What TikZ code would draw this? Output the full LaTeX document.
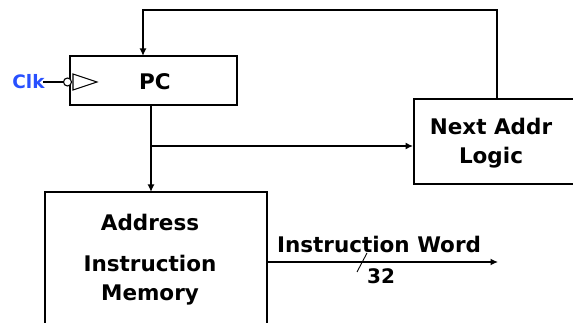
\documentclass[tikz,border=0pt]{standalone}
\usepackage{fontspec}
\setmainfont{DejaVu Sans}
\usetikzlibrary{arrows.meta}
\definecolor{clkblue}{RGB}{40,80,255}
\tikzset{
  box/.style={draw=black, line width=1.8pt, fill=white, inner sep=0pt},
  lbl/.style={inner sep=0pt, font=\fontsize{21.5}{29}\selectfont\bfseries, align=center},
  wire/.style={line width=1.5pt},
  arr/.style={wire, -{Latex[length=7.5pt,width=7pt]}},
}
\begin{document}
\begin{tikzpicture}[x=1pt, y=-1pt]
\clip (0,0) rectangle (573,323);
\fill[white] (0,0) rectangle (573,323);

% boxes
\node[box, minimum width=167pt, minimum height=49pt] (pc) at (153.5,80.5) {};
\node[box, minimum width=222pt, minimum height=160pt] (mem) at (156,272) {};
\node[box, minimum width=190pt, minimum height=85pt] (nab) at (509,141.5) {};

% labels
\node[lbl] (pcl) at (155,82) {PC};
\node[lbl] (addr) at (150,222) {Address};
\node[lbl] (imem) at (150,280.5) {Instruction\\Memory};
\node[lbl] (nabl) at (491,143) {Next Addr\\Logic};
\node[lbl] (iw) at (379,244) {Instruction Word};
\node[lbl, font=\fontsize{20}{22}\selectfont\bfseries] (n32) at (381,276) {32};
\node[lbl, font=\fontsize{18.5}{20}\selectfont\bfseries, text=clkblue] (clk) at (28.5,82) {Clk};

% clock input
\coordinate (ck1) at (43,82);
\node[draw, circle, line width=1.1pt, minimum size=8pt, inner sep=0pt, fill=white] (bub) at (67.5,82) {};
\draw[wire] (ck1) -- (bub.west);
\draw[line width=1.1pt, line join=miter] (73,74) -- (97,82) -- (73,90) -- cycle;

% feedback path
\coordinate (fbr) at (497,99);
\coordinate (fbtr) at (497,10);
\coordinate (fbtl) at (143,10);
\coordinate (fbd) at (143,56);
\draw[arr] (fbr) -- (fbtr) -- (fbtl) -- (fbd);

% PC to memory
\coordinate (pco) at (151,105);
\coordinate (br) at (151,146);
\coordinate (memin) at (151,192);
\draw[arr] (pco) -- (memin);
\draw[arr] (br) -- (br -| nab.west);

% instruction word
\coordinate (iwe) at (498,262);
\draw[arr] (mem.east |- iwe) -- (iwe);
\coordinate (s1) at (357,272);
\coordinate (s2) at (367,253);
\draw[line width=0.9pt] (s1) -- (s2);
\end{tikzpicture}
\end{document}
